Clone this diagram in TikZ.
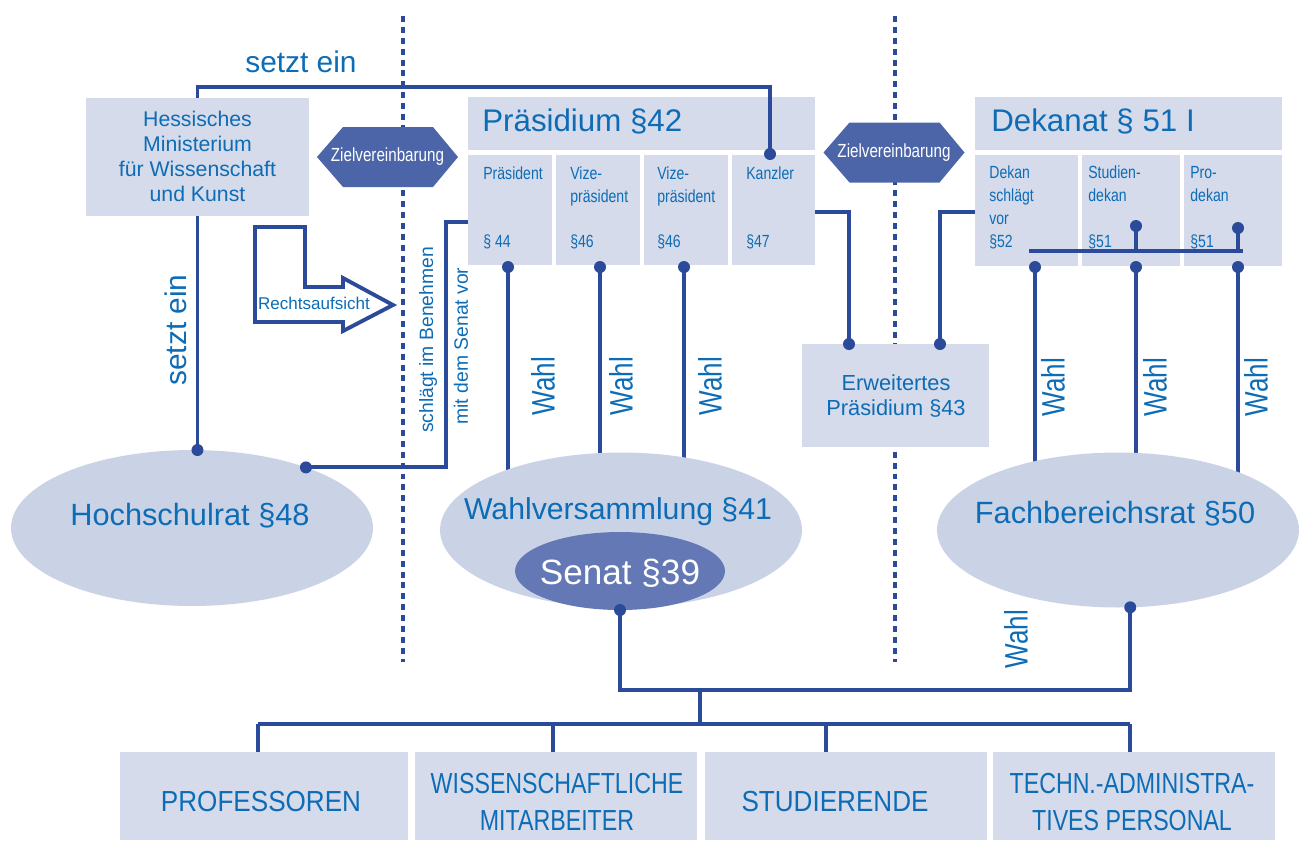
\documentclass[tikz,border=0pt]{standalone}
\usepackage{fontspec}
\setmainfont{Liberation Sans}
\newfontfamily\cond[FakeStretch=0.8]{Liberation Sans}
\newfontfamily\condw[FakeStretch=0.9]{Liberation Sans}
\usetikzlibrary{shapes.geometric,calc}
\definecolor{boxc}{HTML}{D5DBEA}
\definecolor{ellc}{HTML}{CAD3E6}
\definecolor{senc}{HTML}{6378B5}
\definecolor{hexc}{HTML}{4B65A8}
\definecolor{linec}{HTML}{2C4A9A}
\definecolor{txtc}{HTML}{0D6CB6}
\pgfdeclarelayer{back}\pgfdeclarelayer{mid}\pgfsetlayers{back,mid,main}
\newcommand\fs[2]{\fontsize{#1}{#2}\selectfont}
\newcommand\dotat[1]{\fill[linec] (#1) circle (0.12cm);}
\newcommand\hexbg[1]{\fill[hexc] ($(#1)+(-70.5,0)$) -- ($(#1)+(-44.5,-30)$) -- ($(#1)+(45.5,-30)$) -- ($(#1)+(70.5,0)$) -- ($(#1)+(45.5,30)$) -- ($(#1)+(-44.5,30)$) -- cycle;}
\begin{document}
\begin{tikzpicture}[x=0.02cm,y=-0.02cm,
 box/.style={fill=boxc,inner sep=0,outer sep=0,anchor=north west},
 ell/.style={ellipse,fill=ellc,inner sep=0,outer sep=0},
 conn/.style={draw=linec,line width=2.2pt},
 txt/.style={text=txtc,inner sep=0},
 subt/.style={txt,anchor=base west,align=left,font=\cond\fs{10}{13}},
 hexa/.style={text=white,inner sep=0,font=\cond\fs{10.8}{12}},
 sep/.style={draw=linec,line width=2.2pt,dash pattern=on 3.4pt off 2.8pt},
 wahl/.style={txt,rotate=90,font=\cond\fs{18.5}{20}},
 bott/.style={txt,align=center,font=\cond\fs{16.5}{21}},
 bottw/.style={txt,align=center,font=\condw\fs{16.5}{21}}
]
\useasboundingbox (0,0) rectangle (1307,840);

% separators
\begin{pgfonlayer}{back}
\draw[sep] (403,16) -- (403,662);
\draw[sep] (895,16) -- (895,662);
\end{pgfonlayer}

% Ministerium
\node[box,minimum width=4.46cm,minimum height=2.36cm] (min) at (86,98) {};
\node[txt,align=center,font=\fs{12.1}{14.2}] (mint) at (197.5,156) {Hessisches\\Ministerium\\für Wissenschaft\\und Kunst};

% Praesidium
\node[box,minimum width=6.94cm,minimum height=1.06cm] (ph) at (468,97) {};
\node[txt,anchor=west,font=\fs{17.8}{20}] (pht) at (482,121) {Präsidium §42};
\node[box,minimum width=1.68cm,minimum height=2.2cm] (p1) at (468,155) {};
\node[box,minimum width=1.68cm,minimum height=2.2cm] (p2) at (556,155) {};
\node[box,minimum width=1.68cm,minimum height=2.2cm] (p3) at (644,155) {};
\node[box,minimum width=1.66cm,minimum height=2.2cm] (kan) at (732,155) {};
\node[subt] (p1a) at (483,179) {Präsident};
\node[subt] (p1b) at (483,247) {§ 44};
\node[subt] (p2a) at (570,202) {Vize-\\präsident};
\node[subt] (p2b) at (570,247) {§46};
\node[subt] (p3a) at (657,202) {Vize-\\präsident};
\node[subt] (p3b) at (657,247) {§46};
\node[subt] (p4a) at (746,179) {Kanzler};
\node[subt] (p4b) at (746,247) {§47};

% Zielvereinbarung
\node[hexa] (zv1) at (387.5,157) {Zielvereinbarung};
\node[hexa] (zv2) at (894,152.5) {Zielvereinbarung};
\begin{pgfonlayer}{mid}
\hexbg{zv1}
\hexbg{zv2}
\end{pgfonlayer}

% Dekanat
\node[box,minimum width=6.14cm,minimum height=1.06cm] (dh) at (975,97) {};
\node[txt,anchor=west,font=\fs{17.8}{20}] (dht) at (991,121) {Dekanat § 51 I};
\node[box,minimum width=2.06cm,minimum height=2.22cm] (dk1) at (975,155) {};
\node[box,minimum width=1.96cm,minimum height=2.22cm] (dk2) at (1082,155) {};
\node[box,minimum width=1.96cm,minimum height=2.22cm] (dk3) at (1184,155) {};
\node[subt] (dk1t) at (989,247) {Dekan\\schlägt\\vor\\§52};
\node[subt] (dk2a) at (1088,201) {Studien-\\dekan};
\node[subt] (dk2b) at (1088,247) {§51};
\node[subt] (dk3a) at (1190,201) {Pro-\\dekan};
\node[subt] (dk3b) at (1190,247) {§51};

% Erweitertes Praesidium
\node[box,minimum width=3.74cm,minimum height=2.06cm] (ep) at (802,344) {};
\node[txt,align=center,font=\fs{12.4}{14.7}] (ept) at (896,396) {Erweitertes\\Präsidium §43};

% Ellipses
\node[ell,minimum width=7.24cm,minimum height=3.12cm] (hr) at (192,528) {};
\node[txt,font=\fs{17.5}{20}] (hrt) at (190,516) {Hochschulrat §48};
\node[ell,minimum width=7.24cm,minimum height=3.1cm] (wv) at (621,530) {};
\node[txt,font=\fs{17.2}{20}] (wvt) at (618,512) {Wahlversammlung §41};
\node[ellipse,fill=senc,inner sep=0,outer sep=0,minimum width=4.2cm,minimum height=1.56cm] (sen) at (620,571) {};
\node[txt,text=white,font=\fs{20}{24}] (sent) at (620,573) {Senat §39};
\node[ell,minimum width=7.24cm,minimum height=3.1cm] (fbr) at (1118,530) {};
\node[txt,font=\fs{17.5}{20}] (fbrt) at (1115,514) {Fachbereichsrat §50};

% bottom boxes
\node[box,minimum width=5.76cm,minimum height=1.76cm] (b1) at (120,752) {};
\node[box,minimum width=5.64cm,minimum height=1.76cm] (b2) at (415,752) {};
\node[box,minimum width=5.64cm,minimum height=1.76cm] (b3) at (705,752) {};
\node[box,minimum width=5.64cm,minimum height=1.76cm] (b4) at (993,752) {};
\node[bottw] (b1t) at (261,801) {PROFESSOREN};
\node[bott] (b2t) at (557,802) {WISSENSCHAFTLICHE\\MITARBEITER};
\node[bottw] (b3t) at (835,801) {STUDIERENDE};
\node[bott] (b4t) at (1132,802) {TECHN.-ADMINISTRA-\\TIVES PERSONAL};

% Rechtsaufsicht arrow
\draw[linec,line width=2.2pt,fill=white] (255,227) -- (305,227) -- (305,287) -- (343,287) -- (343,278) -- (393,305) -- (343,331) -- (343,322) -- (255,322) -- cycle;
\node[txt,font=\fs{9.7}{11}] (ra) at (314,303) {Rechtsaufsicht};

% labels
\node[txt,font=\fs{17}{20}] (set) at (301,62) {setzt ein};
\node[txt,rotate=90,font=\fs{17}{20}] (sei) at (176,330) {setzt ein};
\node[txt,rotate=90,font=\fs{11}{13}] (sb1) at (428,340) {schlägt im Benehmen};
\node[txt,rotate=90,font=\fs{11}{13}] (sb2) at (461,346) {mit dem Senat vor};
\node[wahl] (w1) at (543,386) {Wahl};
\node[wahl] (w2) at (621,386) {Wahl};
\node[wahl] (w3) at (710,386) {Wahl};
\node[wahl] (w4) at (1053,387) {Wahl};
\node[wahl] (w5) at (1155,387) {Wahl};
\node[wahl] (w6) at (1256,387) {Wahl};
\node[wahl] (w7) at (1016,639) {Wahl};

% coordinates
\coordinate (kdot) at (770,154);
\coordinate (sb) at (446,222);
\coordinate (pd1) at (508,267);
\coordinate (pd2) at (600,267);
\coordinate (pd3) at (684,267);
\coordinate (k2) at (849,212);
\coordinate (k3) at (940,212);
\coordinate (dbL) at (1029,251);
\coordinate (dbR) at (1243,251);
\coordinate (di2) at (1136,226);
\coordinate (di3) at (1238,228);
\coordinate (dd1) at (1035,267);
\coordinate (dd2) at (1136,267);
\coordinate (dd3) at (1238,267);
\coordinate (bus) at (700,690);
\coordinate (d1) at (258,724);
\coordinate (d2) at (553,724);
\coordinate (d3) at (826,724);
\coordinate (d4) at (1130,724);

% connectors behind ellipses
\begin{pgfonlayer}{mid}
\draw[conn] (pd1) -- (pd1 |- wv.center);
\draw[conn] (pd2) -- (pd2 |- wv.center);
\draw[conn] (pd3) -- (pd3 |- wv.center);
\draw[conn] (dd1) -- (dd1 |- fbr.center);
\draw[conn] (dd2) -- (dd2 |- fbr.center);
\draw[conn] (dd3) -- (dd3 |- fbr.center);
\end{pgfonlayer}

% connectors
\draw[conn] (min.north) -- ++(0,-11) -| (kdot);
\draw[conn] (min.south) -- (min.south |- hr.north);
\draw[conn] (hr.28) -| (sb) -- (p1.west |- sb);
\draw[conn] (kan.east |- k2) -- (k2) -- (k2 |- ep.north);
\draw[conn] (k3 |- ep.north) -- (k3) -- (dk1.west |- k3);
\draw[conn] (dbL) -- (dbR);
\draw[conn] (di2) -- (di2 |- dbL);
\draw[conn] (di3) -- (di3 |- dbL);
\draw[conn] (sen.south) -- (sen.south |- bus) -| (fbr.-81);
\draw[conn] (bus) -- (bus |- d1);
\draw[conn] (d1) -- (d4);
\draw[conn] (d1) -- (d1 |- b1.north);
\draw[conn] (d2) -- (d2 |- b2.north);
\draw[conn] (d3) -- (d3 |- b3.north);
\draw[conn] (d4) -- (d4 |- b4.north);

% dots
\dotat{kdot}
\dotat{min.south |- hr.north}
\dotat{hr.28}
\dotat{pd1}\dotat{pd2}\dotat{pd3}
\dotat{k2 |- ep.north}
\dotat{k3 |- ep.north}
\dotat{di2}\dotat{di3}
\dotat{dd1}\dotat{dd2}\dotat{dd3}
\dotat{sen.south}
\dotat{fbr.-81}
\end{tikzpicture}
\end{document}
